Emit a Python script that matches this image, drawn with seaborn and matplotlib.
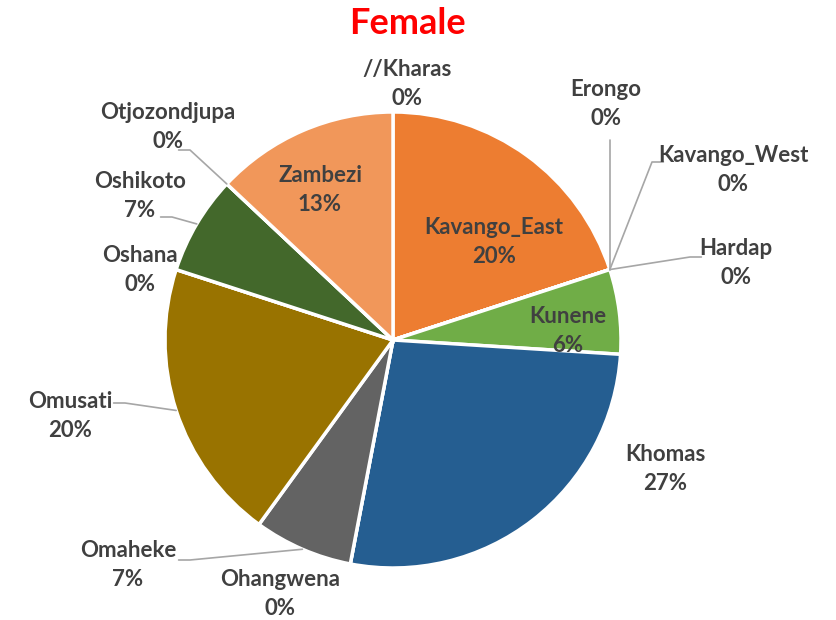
import numpy as np
import matplotlib
matplotlib.use("Agg")
import matplotlib.pyplot as plt
import seaborn as sns

# данные (порядок как на круговой диаграмме, по часовой стрелке от 12 часов)
regions = ['//Kharas', 'Kavango_East', 'Erongo', 'Kavango_West', 'Hardap', 'Kunene',
           'Khomas', 'Ohangwena', 'Omaheke', 'Omusati', 'Oshana', 'Oshikoto',
           'Otjozondjupa', 'Zambezi']
percent = [0, 20, 0, 0, 0, 6, 27, 0, 7, 20, 0, 7, 0, 13]
colors = ['#A5A5A5', '#ED7D31', '#FFC000', '#5B9BD5', '#4472C4', '#70AD47',
          '#255E91', '#9E480E', '#636363', '#997300', '#264478', '#43682B',
          '#698ED0', '#F1975A']

# раскладка подписей в пикселях (центр текста, излом линии, нужна ли линия)
W, H = 836, 620
CX, CY, R = 393, 340, 228
label_pos = {
    '//Kharas': (407, 84, None),
    'Kavango_East': (494, 242, 'in'),
    'Erongo': (606, 104, (610, 140)),
    'Kavango_West': (733, 170, (652, 162)),
    'Hardap': (736, 263, (690, 257)),
    'Kunene': (568, 331, 'in'),
    'Khomas': (665, 469, None),
    'Ohangwena': (280, 594, None),
    'Omaheke': (128, 565, (190, 560)),
    'Omusati': (70, 416, (125, 403)),
    'Oshana': (140, 270, None),
    'Oshikoto': (140, 196, (172, 217)),
    'Otjozondjupa': (168, 127, (190, 150)),
    'Zambezi': (320, 190, 'in'),
}


def px(x, y):
    return (x - CX) / R, (CY - y) / R


sns.set_theme(style='white')
plt.rcParams['font.family'] = ['Lato', 'DejaVu Sans']

fig = plt.figure(figsize=(W / 100, H / 100), dpi=100)
ax = fig.add_axes([0, 0, 1, 1])

wedges, _ = ax.pie(percent, colors=colors, startangle=90, counterclock=False,
                   radius=1.0, wedgeprops=dict(edgecolor='white', linewidth=2.5))

ax.set_xlim(-CX / R, (W - CX) / R)
ax.set_ylim(-(H - CY) / R, CY / R)
ax.set_aspect('equal')
ax.axis('off')

text_color = '#404040'
line_color = '#A6A6A6'
for w, name, val in zip(wedges, regions, percent):
    tx, ty, mode = label_pos[name]
    x, y = px(tx, ty)
    ax.text(x, y, f'{name}\n{val}%', ha='center', va='center', fontsize=16,
            fontweight='bold', color=text_color, linespacing=1.42)
    if mode is None or mode == 'in':
        continue
    mid = np.deg2rad((w.theta1 + w.theta2) / 2)
    ex, ey = np.cos(mid), np.sin(mid)
    bx, by = px(*mode)
    if name in ('Erongo',):
        ax.plot([ex, ex], [ey, by], color=line_color, lw=1.2)
    else:
        side = -1 if bx < ex else 1
        ax.plot([ex, bx, bx + side * 0.05], [ey, by, by], color=line_color, lw=1.2)

fig.text(407 / W, 1 - 23 / H, 'Female', ha='center', va='center', fontsize=26,
         fontweight='bold', color='#FF0000')

fig.savefig('out.png', dpi=100)
